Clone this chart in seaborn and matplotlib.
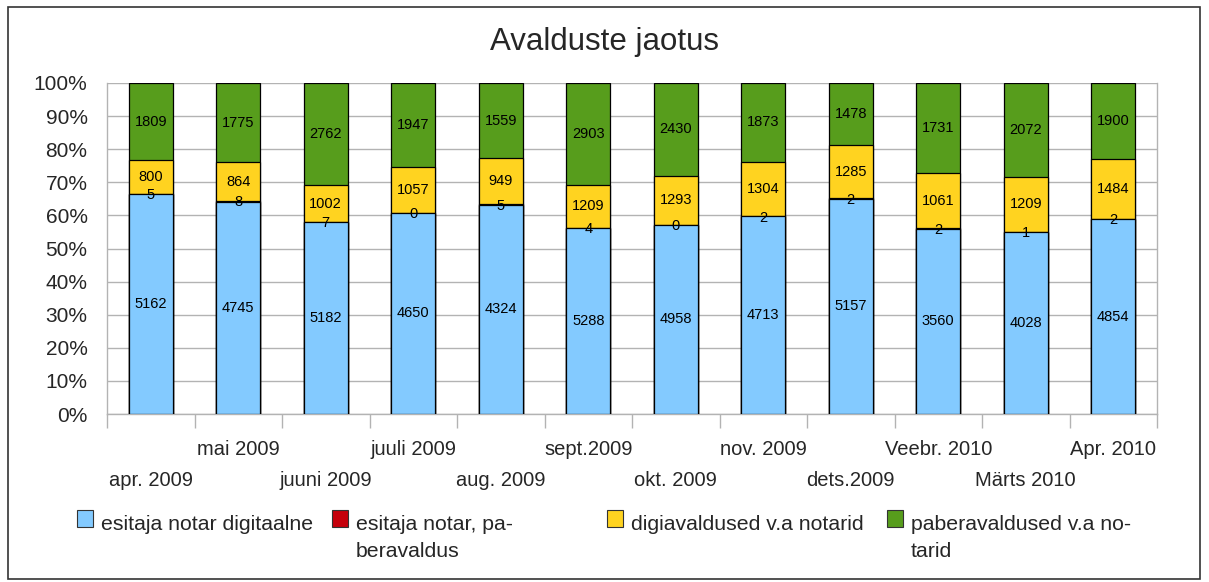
import numpy as np
import pandas as pd
import matplotlib.pyplot as plt
import seaborn as sns
from matplotlib.patches import Rectangle

months = ["apr. 2009", "mai 2009", "juuni 2009", "juuli 2009", "aug. 2009",
          "sept.2009", "okt. 2009", "nov. 2009", "dets.2009", "Veebr. 2010",
          "Märts 2010", "Apr. 2010"]

notar_digi = [5162, 4745, 5182, 4650, 4324, 5288, 4958, 4713, 5157, 3560, 4028, 4854]
notar_paber = [5, 8, 7, 0, 5, 4, 0, 2, 2, 2, 1, 2]
digi_muud = [800, 864, 1002, 1057, 949, 1209, 1293, 1304, 1285, 1061, 1209, 1484]
paber_muud = [1809, 1775, 2762, 1947, 1559, 2903, 2430, 1873, 1478, 1731, 2072, 1900]

series_names = ["esitaja notar digitaalne", "esitaja notar, pa-\nberavaldus",
                "digiavaldused v.a notarid", "paberavaldused v.a no-\ntarid"]
colors = ["#83CAFF", "#C5000B", "#FFD320", "#579D1C"]

sns.set_theme(style="white")
plt.rcParams["font.family"] = ["Liberation Sans", "DejaVu Sans"]

W, H = 1209, 582
counts = np.array([notar_digi, notar_paber, digi_muud, paber_muud], dtype=float)
totals = counts.sum(axis=0)
pct = counts / totals * 100
cum = pct.cumsum(axis=0)

fig = plt.figure(figsize=(W / 100, H / 100), dpi=100)
ax = fig.add_axes([107 / W, 1 - 414 / H, 1050 / W, 331 / H])

# draw from the top layer down so each cumulative bar covers the previous one
for i in range(3, -1, -1):
    df = pd.DataFrame({"kuu": months, "pct": cum[i]})
    sns.barplot(data=df, x="kuu", y="pct", color=colors[i], saturation=1,
                edgecolor="black", linewidth=0.9, width=0.5, ax=ax, zorder=3)

# value labels
x = np.arange(len(months))
for i in range(4):
    bottoms = cum[i] - pct[i]
    for j in range(len(months)):
        if i == 1:
            y = cum[i][j] - 0.4
        else:
            y = bottoms[j] + pct[i][j] / 2
        ax.text(x[j], y, f"{int(counts[i][j])}", ha="center", va="center",
                fontsize=10.5, color="black", zorder=5)

ax.set_ylim(0, 100)
ax.set_xlim(-0.5, len(months) - 0.5)
ax.set_yticks(np.arange(0, 101, 10))
ax.set_yticklabels([f"{v}%" for v in range(0, 101, 10)], fontsize=15)
ax.yaxis.grid(True, color="#b3b3b3", linewidth=1, zorder=0)
ax.xaxis.grid(False)
ax.set_xlabel("")
ax.set_ylabel("")

# staggered month labels: odd months on the upper row, even ones on a second axis below
ax.set_xticks(x[1::2])
ax.set_xticklabels(months[1::2], fontsize=14.5)
ax.set_xticks(np.arange(-0.5, len(months)), minor=True)
ax.tick_params(axis="x", which="major", length=0, pad=19)
ax.tick_params(axis="x", which="minor", length=10, color="#b3b3b3", width=1,
               direction="out", bottom=True)
ax.tick_params(axis="y", length=0, pad=14)

lower = ax.secondary_xaxis("bottom")
lower.set_xticks(x[0::2])
lower.set_xticklabels(months[0::2], fontsize=14.5)
lower.tick_params(axis="x", length=0, pad=41)
lower.spines["bottom"].set_visible(False)

for side in ["left", "right", "bottom"]:
    ax.spines[side].set_color("#b3b3b3")
    ax.spines[side].set_linewidth(1)
ax.spines["top"].set_visible(False)

fig.text(0.5, 1 - 42 / H, "Avalduste jaotus", fontsize=22.5, ha="center", va="center")

# legend drawn by hand to keep the handle next to the first line of wrapped labels
legend_x = [77, 332, 607, 887]
for name, col, lx in zip(series_names, colors, legend_x):
    fig.patches.append(Rectangle((lx / W, 1 - 527 / H), 16 / W, 17 / H,
                                 transform=fig.transFigure, facecolor=col,
                                 edgecolor="#333333", linewidth=0.8))
    for k, line in enumerate(name.split("\n")):
        fig.text((lx + 24) / W, 1 - (530 + 27 * k) / H, line, fontsize=15.3,
                 ha="left", va="baseline")

fig.patches.append(Rectangle((8 / W, 3 / H), 1192 / W, 572 / H, transform=fig.transFigure,
                             fill=False, edgecolor="#333333", linewidth=1.2))

fig.savefig("out.png", dpi=100)
